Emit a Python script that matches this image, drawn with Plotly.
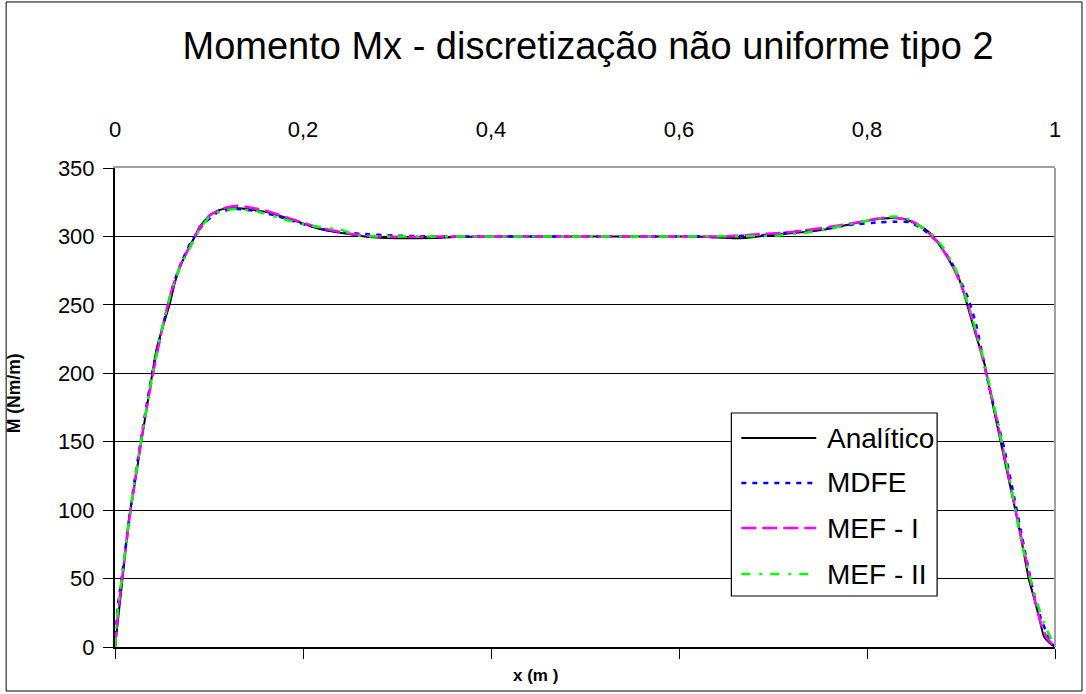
import plotly.graph_objects as go

# ---- data -------------------------------------------------------------
x_ticks = [0, 0.2, 0.4, 0.6, 0.8, 1.0]
x_tick_labels = ["0", "0,2", "0,4", "0,6", "0,8", "1"]
y_ticks = [0, 50, 100, 150, 200, 250, 300, 350]

x_analitico = [0, 0.004, 0.008, 0.0145, 0.02, 0.028, 0.035, 0.044, 0.05, 0.058,
               0.064, 0.07, 0.078, 0.085, 0.09, 0.1, 0.11, 0.12, 0.13, 0.14,
               0.15, 0.16, 0.18, 0.2, 0.215, 0.232, 0.25, 0.27, 0.3, 0.34,
               0.36, 0.4, 0.5, 0.6, 0.62, 0.64, 0.66, 0.675, 0.69, 0.707,
               0.73, 0.752, 0.78, 0.8, 0.815, 0.828, 0.841, 0.855, 0.866, 0.877,
               0.887, 0.898, 0.905, 0.915, 0.925, 0.93, 0.94, 0.95, 0.96, 0.966,
               0.972, 0.978, 0.983, 0.988, 0.994, 1.0]
m_analitico = [0, 25, 50, 92, 115, 150, 180, 217, 232, 250,
               267, 279, 291, 300, 307, 315, 319, 320.5, 320.5, 320,
               319, 318, 314, 309.5, 306, 303.5, 301.5, 299.5, 298.7, 298.8,
               299.5, 300, 300, 300, 300, 299.2, 298.6, 299.3, 300.5, 301.5,
               303, 304.6, 308.5, 311.5, 313, 313.5, 312.5, 308, 303, 294,
               283, 269, 254, 230, 207, 190, 157, 125, 93, 72,
               50, 35, 22, 8, 3, 0]

x_mdfe = [0, 0.003, 0.008, 0.013, 0.02, 0.03, 0.04, 0.05, 0.062, 0.07,
          0.08, 0.094, 0.11, 0.13, 0.15, 0.172, 0.2, 0.23, 0.26, 0.3,
          0.35, 0.4, 0.5, 0.6, 0.65, 0.69, 0.717, 0.746, 0.783, 0.813,
          0.83, 0.845, 0.859, 0.875, 0.89, 0.907, 0.916, 0.925, 0.935, 0.946,
          0.957, 0.968, 0.979, 0.985, 0.992, 1.0]
m_mdfe = [0, 30, 55, 82, 118, 162, 202, 232, 265, 280,
          295, 309, 318, 320, 318.5, 315, 309, 304, 302, 300.5,
          300, 300, 300, 300, 300, 301, 303, 305, 308.5, 310.3,
          310.8, 310.5, 305.5, 296, 281, 256, 236, 206, 175, 145,
          108, 70, 34, 21, 9, 0]

x_mef1 = [0, 0.004, 0.009, 0.015, 0.022, 0.03, 0.04, 0.05, 0.06, 0.07,
          0.08, 0.09, 0.1, 0.115, 0.13, 0.145, 0.16, 0.18, 0.2, 0.22,
          0.25, 0.28, 0.31, 0.35, 0.4, 0.5, 0.6, 0.65, 0.687, 0.71,
          0.735, 0.77, 0.792, 0.81, 0.824, 0.845, 0.86, 0.875, 0.89, 0.905,
          0.92, 0.935, 0.95, 0.962, 0.972, 0.98, 0.986, 0.992, 1.0]
m_mef1 = [0, 30, 58, 92, 125, 160, 198, 232, 260, 280,
          293, 306, 315, 320.5, 322.5, 321, 319, 314.5, 310, 306,
          302, 300, 299.5, 300, 300, 300, 300, 300, 301.8, 302.5,
          304.5, 308, 310.5, 313, 314, 312, 306, 296, 280, 256,
          219, 176, 127, 87, 55, 30, 15, 6, 0]

x_mef2 = [0, 0.003, 0.008, 0.014, 0.02, 0.03, 0.04, 0.05, 0.06, 0.07,
          0.08, 0.09, 0.1, 0.115, 0.13, 0.15, 0.182, 0.2, 0.225, 0.24,
          0.26, 0.3, 0.4, 0.5, 0.6, 0.7, 0.739, 0.763, 0.788, 0.813,
          0.827, 0.84, 0.853, 0.866, 0.882, 0.895, 0.91, 0.925, 0.94, 0.952,
          0.962, 0.97, 0.976, 0.983, 0.99, 1.0]
m_mef2 = [0, 28, 55, 88, 117, 160, 200, 233, 260, 279,
          292, 305, 314, 319, 320, 318.5, 312, 309, 306, 305,
          300.5, 300, 300, 300, 300, 300.5, 303, 306, 310, 313,
          314.6, 314, 308.6, 304, 291, 275, 245, 208, 160, 122,
          84, 60, 44, 28, 14.5, 0]

series_names = ["Analítico", "MDFE", "MEF - I", "MEF - II"]
series_colors = ["#000000", "#0000FF", "#FF00FF", "#00FF00"]
series_dash = ["solid", "5px,6px", "15px,6px", "9px,9px,3px,8px"]
series_width = [2, 2.5, 2.5, 2.5]

FONT = "Arial, Liberation Sans, sans-serif"

fig = go.Figure()

xs = [x_analitico, x_mdfe, x_mef1, x_mef2]
ms = [m_analitico, m_mdfe, m_mef1, m_mef2]
for i, (xv, mv) in enumerate(zip(xs, ms)):
    fig.add_trace(go.Scatter(
        x=xv, y=mv, mode="lines", name=series_names[i],
        line=dict(color=series_colors[i], width=series_width[i],
                  dash=series_dash[i], shape="spline", smoothing=0.4),
        xaxis="x" if i == 0 else "x2",
        showlegend=False,
    ))

# ---- legend box drawn by hand (long line samples) ----------------------
leg_x0, leg_x1 = 0.6557, 0.8746
leg_y0, leg_y1 = 0.1065, 0.4885
row_y = [0.4363, 0.3424, 0.2484, 0.1524]
shapes = [
    # grey frame of plot area (right side)
    dict(type="line", xref="paper", yref="paper", x0=1, x1=1, y0=0, y1=1,
         line=dict(color="#A0A0A0", width=2), layer="above"),
    # outer chart frame
    dict(type="rect", xref="paper", yref="paper",
         x0=-0.1158, x1=1.0287, y0=-0.0919, y1=1.3466,
         line=dict(color="#000000", width=1), layer="below"),
    dict(type="rect", xref="paper", yref="paper",
         x0=leg_x0, x1=leg_x1, y0=leg_y0, y1=leg_y1,
         line=dict(color="#000000", width=1.2), fillcolor="white",
         layer="above"),
]
annotations = []
for i, yy in enumerate(row_y):
    shapes.append(dict(type="line", xref="paper", yref="paper",
                       x0=0.6663, x1=0.7460, y0=yy, y1=yy,
                       line=dict(color=series_colors[i], width=series_width[i],
                                 dash=series_dash[i]),
                       layer="above"))
    annotations.append(dict(text=series_names[i], xref="paper", yref="paper",
                            x=0.7556, y=yy, xanchor="left", yanchor="middle",
                            showarrow=False,
                            font=dict(family=FONT, size=28, color="black")))

# axis titles
annotations.append(dict(text="<b>x (m )</b>", xref="paper", yref="paper",
                        x=0.447, y=-0.0605, xanchor="center", yanchor="middle",
                        showarrow=False,
                        font=dict(family=FONT, size=17, color="black")))
annotations.append(dict(text="<b>M (Nm/m)</b>", xref="paper", yref="paper",
                        x=-0.1074, y=0.530, xanchor="center", yanchor="middle",
                        textangle=-90, showarrow=False,
                        font=dict(family=FONT, size=17.5, color="black")))

fig.update_layout(
    width=1086, height=694,
    margin=dict(l=115, r=31, t=168, b=47),
    paper_bgcolor="white", plot_bgcolor="white",
    font=dict(family=FONT, color="black"),
    title=dict(text="Momento Mx - discretização não uniforme tipo 2",
               x=0.5032, xref="paper", xanchor="center",
               y=1 - 46 / 694, yref="container", yanchor="middle",
               font=dict(family=FONT, size=38, color="black")),
    xaxis=dict(range=[0, 1], tickvals=x_ticks, showticklabels=False,
               ticks="outside", ticklen=10, tickcolor="black", tickwidth=1,
               showline=True, linecolor="black", linewidth=2,
               showgrid=False, zeroline=False, fixedrange=True),
    xaxis2=dict(range=[0, 1], overlaying="x", side="top",
                tickvals=x_ticks, ticktext=x_tick_labels, ticks="",
                ticklabelstandoff=20,
                tickfont=dict(family=FONT, size=22, color="black"),
                showline=True, linecolor="#A0A0A0", linewidth=2,
                showgrid=False, zeroline=False),
    yaxis=dict(range=[0, 350], tickvals=y_ticks,
               ticks="outside", ticklen=10, tickcolor="black", tickwidth=1,
               ticklabelstandoff=4,
               tickfont=dict(family=FONT, size=22, color="black"),
               showline=True, linecolor="black", linewidth=2,
               showgrid=True, gridcolor="black", gridwidth=1,
               zeroline=False),
    shapes=shapes,
    annotations=annotations,
    showlegend=False,
)

fig.write_html("out.html")
